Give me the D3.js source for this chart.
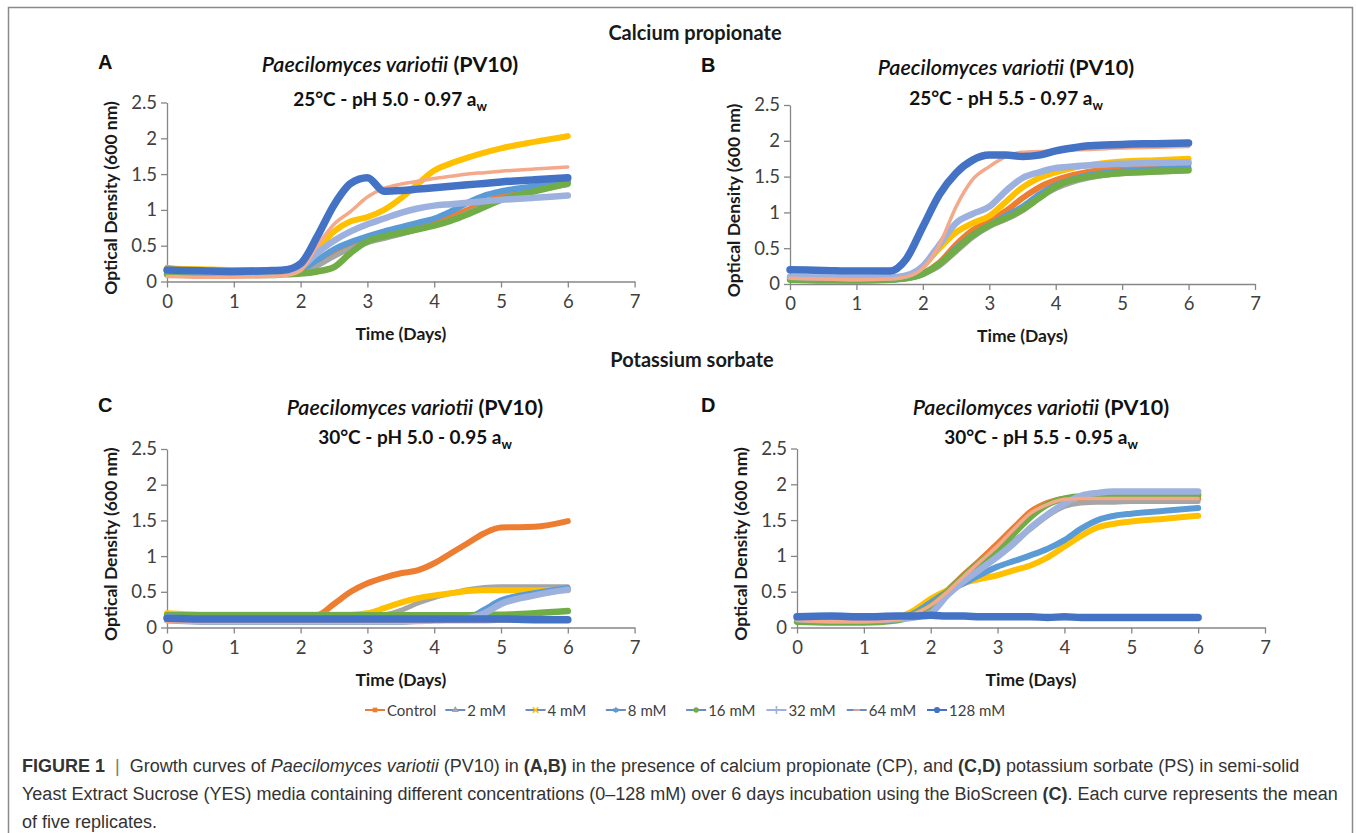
<!DOCTYPE html>
<html>
<head>
<meta charset="utf-8">
<script src="https://cdn.jsdelivr.net/npm/d3@7"></script>
<style>
  body { margin: 0; background: #fff; }
  svg { display: block; }
</style>
</head>
<body>
<div id="chart"></div>
<script>
// sampling days shared by every curve
const days = [0, 0.5, 1, 1.5, 1.75, 2, 2.25, 2.5, 2.75, 3, 3.25, 3.5, 3.75, 4, 4.25, 4.5, 4.75, 5, 5.5, 6];
const xTicks = [0, 1, 2, 3, 4, 5, 6, 7];
const yTicks = [0, 0.5, 1, 1.5, 2, 2.5];
const seriesNames = ["Control", "2 mM", "4 mM", "8 mM", "16 mM", "32 mM", "64 mM", "128 mM"];

// A: calcium propionate, 25°C pH 5.0
const panelA = [
  [0.13,0.12,0.12,0.12,0.12,0.14,0.25,0.40,0.50,0.58,0.64,0.70,0.76,0.82,0.90,1.00,1.10,1.20,1.32,1.40],
  [0.20,0.15,0.14,0.13,0.13,0.14,0.22,0.35,0.46,0.54,0.60,0.66,0.72,0.78,0.86,0.96,1.06,1.15,1.27,1.35],
  [0.18,0.17,0.16,0.16,0.16,0.20,0.45,0.70,0.84,0.90,1.00,1.16,1.36,1.55,1.65,1.73,1.80,1.86,1.95,2.03],
  [0.12,0.11,0.10,0.11,0.12,0.16,0.30,0.45,0.55,0.63,0.70,0.76,0.82,0.88,0.98,1.10,1.20,1.26,1.33,1.40],
  [0.10,0.09,0.09,0.09,0.10,0.11,0.14,0.20,0.40,0.56,0.63,0.68,0.73,0.78,0.85,0.94,1.04,1.14,1.26,1.37],
  [0.15,0.14,0.13,0.14,0.15,0.20,0.40,0.57,0.70,0.80,0.88,0.96,1.02,1.06,1.08,1.10,1.12,1.14,1.17,1.20],
  [0.07,0.06,0.06,0.07,0.08,0.15,0.50,0.80,0.98,1.18,1.30,1.36,1.40,1.44,1.47,1.50,1.52,1.54,1.57,1.60],
  [0.16,0.15,0.14,0.15,0.16,0.25,0.63,1.07,1.37,1.45,1.26,1.27,1.29,1.31,1.33,1.35,1.37,1.39,1.42,1.45]
];

// B: calcium propionate, 25°C pH 5.5
const panelB = [
  [0.08,0.07,0.06,0.07,0.09,0.15,0.30,0.55,0.75,0.88,1.02,1.20,1.35,1.45,1.52,1.57,1.60,1.62,1.66,1.68],
  [0.07,0.06,0.05,0.06,0.08,0.14,0.25,0.45,0.65,0.80,0.90,1.02,1.20,1.33,1.42,1.48,1.52,1.54,1.56,1.58],
  [0.08,0.07,0.06,0.07,0.10,0.25,0.50,0.72,0.85,0.95,1.15,1.35,1.48,1.56,1.62,1.66,1.69,1.71,1.73,1.75],
  [0.07,0.06,0.05,0.06,0.08,0.14,0.28,0.50,0.68,0.82,0.95,1.08,1.25,1.38,1.46,1.52,1.55,1.57,1.60,1.62],
  [0.06,0.05,0.05,0.06,0.08,0.14,0.28,0.48,0.68,0.82,0.92,1.04,1.20,1.36,1.45,1.50,1.53,1.55,1.57,1.59],
  [0.10,0.09,0.08,0.09,0.12,0.25,0.55,0.85,0.98,1.08,1.30,1.48,1.56,1.62,1.64,1.66,1.67,1.68,1.69,1.70],
  [0.08,0.07,0.06,0.07,0.10,0.22,0.55,1.08,1.46,1.64,1.78,1.84,1.85,1.86,1.87,1.88,1.89,1.90,1.91,1.92],
  [0.20,0.19,0.18,0.18,0.35,0.80,1.25,1.55,1.73,1.80,1.80,1.78,1.80,1.86,1.90,1.93,1.94,1.95,1.96,1.97]
];

// C: potassium sorbate, 30°C pH 5.0
const panelC = [
  [0.15,0.14,0.14,0.14,0.14,0.15,0.17,0.33,0.50,0.62,0.70,0.76,0.80,0.90,1.04,1.18,1.32,1.40,1.41,1.49],
  [0.20,0.17,0.17,0.17,0.17,0.17,0.17,0.17,0.17,0.17,0.18,0.24,0.34,0.42,0.48,0.53,0.56,0.57,0.57,0.57],
  [0.20,0.18,0.18,0.18,0.18,0.18,0.18,0.18,0.18,0.20,0.27,0.35,0.41,0.45,0.48,0.51,0.52,0.52,0.52,0.52],
  [0.10,0.08,0.08,0.08,0.08,0.08,0.08,0.08,0.08,0.08,0.08,0.08,0.09,0.10,0.11,0.13,0.25,0.38,0.48,0.55],
  [0.17,0.17,0.17,0.17,0.17,0.17,0.17,0.17,0.17,0.17,0.17,0.17,0.17,0.17,0.17,0.17,0.18,0.18,0.20,0.23],
  [0.14,0.12,0.12,0.12,0.12,0.12,0.12,0.12,0.12,0.12,0.12,0.12,0.12,0.12,0.12,0.13,0.20,0.33,0.45,0.53],
  [0.08,0.07,0.07,0.07,0.07,0.07,0.07,0.07,0.07,0.07,0.07,0.07,0.07,0.08,0.08,0.08,0.08,0.09,0.09,0.10],
  [0.13,0.12,0.12,0.12,0.12,0.12,0.12,0.12,0.12,0.12,0.12,0.12,0.12,0.12,0.12,0.12,0.12,0.12,0.11,0.11]
];

// D: potassium sorbate, 30°C pH 5.5
const panelD = [
  [0.12,0.10,0.09,0.12,0.20,0.33,0.52,0.74,0.95,1.17,1.40,1.62,1.74,1.80,1.81,1.81,1.81,1.80,1.80,1.80],
  [0.10,0.08,0.08,0.11,0.17,0.27,0.45,0.65,0.85,1.03,1.22,1.38,1.56,1.69,1.74,1.75,1.75,1.76,1.76,1.76],
  [0.12,0.10,0.09,0.14,0.24,0.40,0.52,0.62,0.68,0.73,0.80,0.87,0.98,1.13,1.28,1.40,1.45,1.48,1.52,1.56],
  [0.10,0.08,0.08,0.11,0.20,0.35,0.50,0.62,0.74,0.85,0.93,1.01,1.10,1.22,1.38,1.50,1.56,1.59,1.63,1.67],
  [0.08,0.07,0.07,0.10,0.18,0.30,0.50,0.72,0.92,1.10,1.32,1.55,1.72,1.80,1.83,1.83,1.84,1.84,1.85,1.85],
  [0.12,0.10,0.10,0.12,0.14,0.20,0.45,0.65,0.82,0.99,1.18,1.40,1.58,1.73,1.84,1.88,1.90,1.90,1.90,1.90],
  [0.10,0.08,0.08,0.11,0.19,0.31,0.50,0.72,0.93,1.14,1.38,1.60,1.72,1.79,1.80,1.80,1.80,1.80,1.80,1.80],
  [0.15,0.16,0.15,0.16,0.16,0.17,0.16,0.16,0.15,0.15,0.15,0.15,0.14,0.15,0.14,0.14,0.14,0.14,0.14,0.14]
];

const colors = ["#ED7D31", "#A5A5A5", "#FFC000", "#5B9BD5", "#70AD47", "#9DB1DF", "#F4A98A", "#4472C4"];
const widths = [6, 5, 6, 6, 6.5, 6.5, 3.5, 7.5];
const legendLine = ["#ED7D31", "#6a8cc8", "#6a8cc8", "#6a8cc8", "#6a8cc8", "#9DB1DF", "#6a8cc8", "#4472C4"];
const dash = { draw(ctx, size) { const w = Math.sqrt(size) * 0.7; ctx.moveTo(-w, 0); ctx.lineTo(w, 0); } };
const symbols = [d3.symbolSquare, d3.symbolTriangle, d3.symbolX, d3.symbolAsterisk, d3.symbolCircle, d3.symbolPlus, dash, d3.symbolCircle];

const W = 1356, H = 833;
const svg = d3.select("#chart").append("svg").attr("width", W).attr("height", H);
svg.append("rect").attr("width", W).attr("height", H).attr("fill", "#fff");

// outer frame
svg.append("rect")
  .attr("x", 8.5).attr("y", 7.5).attr("width", 1344).attr("height", 900)
  .attr("fill", "none").attr("stroke", "#8a8a8a").attr("stroke-width", 1.5);

const sans = "Lato, 'Open Sans', sans-serif";

svg.append("text").attr("x", 695).attr("y", 40).attr("text-anchor", "middle")
  .style("font-family", sans).style("font-weight", 700).style("font-size", "20px")
  .attr("fill", "#1a1a1a").text("Calcium propionate");
svg.append("text").attr("x", 692).attr("y", 367).attr("text-anchor", "middle")
  .style("font-family", sans).style("font-weight", 700).style("font-size", "20px")
  .attr("fill", "#1a1a1a").text("Potassium sorbate");

const panels = [
  { letter: "A", data: panelA, x0: 167, x7: 634.6, y0: 281.5, y25: 102.5, lx: 98, ly: 69, tx: 390, ty1: 72, ty2: 106, cond: "25°C - pH 5.0 - 0.97 a" },
  { letter: "B", data: panelB, x0: 790, x7: 1255, y0: 284, y25: 105, lx: 701, ly: 72, tx: 1006, ty1: 75, ty2: 105, cond: "25°C - pH 5.5 - 0.97 a" },
  { letter: "C", data: panelC, x0: 167, x7: 634.6, y0: 627.5, y25: 449, lx: 98, ly: 412, tx: 415, ty1: 415, ty2: 444, cond: "30°C - pH 5.0 - 0.95 a" },
  { letter: "D", data: panelD, x0: 797, x7: 1265, y0: 627.5, y25: 448.5, lx: 701, ly: 412, tx: 1041, ty1: 415, ty2: 444, cond: "30°C - pH 5.5 - 0.95 a" }
];

panels.forEach(function(p) {
  const x = d3.scaleLinear().domain([0, 7]).range([p.x0, p.x7]);
  const y = d3.scaleLinear().domain([0, 2.5]).range([p.y0, p.y25]);
  const g = svg.append("g");

  g.append("text").attr("x", p.lx).attr("y", p.ly)
    .style("font-family", "'Liberation Sans', Arial, sans-serif").style("font-weight", 700)
    .style("font-size", "20px").attr("fill", "#111").text(p.letter);

  const t1 = g.append("text").attr("x", p.tx).attr("y", p.ty1).attr("text-anchor", "middle")
    .style("font-family", sans).style("font-size", "21.5px").attr("fill", "#111");
  t1.append("tspan").style("font-style", "italic").style("font-weight", 600).text("Paecilomyces variotii");
  t1.append("tspan").style("font-weight", 700).text(" (PV10)");

  const t2 = g.append("text").attr("x", p.tx).attr("y", p.ty2).attr("text-anchor", "middle")
    .style("font-family", sans).style("font-weight", 700).style("font-size", "19px").attr("fill", "#111");
  t2.append("tspan").text(p.cond);
  t2.append("tspan").attr("dy", 5).style("font-size", "13px").text("w");

  // axes
  const xAxis = g.append("g").attr("transform", "translate(0," + p.y0 + ")")
    .call(d3.axisBottom(x).tickValues(xTicks).tickSize(6).tickSizeOuter(0).tickPadding(7).tickFormat(d3.format("d")));
  const yAxis = g.append("g").attr("transform", "translate(" + p.x0 + ",0)")
    .call(d3.axisLeft(y).tickValues(yTicks).tickSize(6).tickSizeOuter(0).tickPadding(4).tickFormat(d => String(d)));
  [xAxis, yAxis].forEach(function(a) {
    a.select(".domain").attr("stroke", "#868686").attr("stroke-width", 1.3);
    a.selectAll(".tick line").attr("stroke", "#868686").attr("stroke-width", 1.3);
    a.selectAll(".tick text").attr("fill", "#404040")
      .style("font-family", sans).style("font-size", "18.5px");
  });

  g.append("text").attr("x", (p.x0 + p.x7) / 2).attr("y", p.y0 + 58).attr("text-anchor", "middle")
    .style("font-family", sans).style("font-weight", 700).style("font-size", "17.5px")
    .attr("fill", "#1a1a1a").text("Time (Days)");
  g.append("text")
    .attr("transform", "translate(" + (p.x0 - 50) + "," + ((p.y0 + p.y25) / 2 + 6) + ") rotate(-90)")
    .attr("text-anchor", "middle")
    .style("font-family", sans).style("font-weight", 700).style("font-size", "17.5px")
    .attr("fill", "#1a1a1a").text("Optical Density (600 nm)");

  const line = d3.line()
    .x(d => x(d[0]))
    .y(d => y(d[1]))
    .curve(d3.curveMonotoneX);

  p.data.forEach(function(vals, i) {
    g.append("path")
      .datum(days.map((d, k) => [d, vals[k]]))
      .attr("d", line)
      .attr("fill", "none")
      .attr("stroke", colors[i])
      .attr("stroke-width", widths[i])
      .attr("stroke-linecap", "round")
      .attr("stroke-linejoin", "round");
  });
});

// legend
const lx = d3.scalePoint().domain(seriesNames).range([365, 927]);
const leg = svg.append("g").attr("transform", "translate(0,710)");
seriesNames.forEach(function(name, i) {
  const x0 = lx(name);
  leg.append("line").attr("x1", x0).attr("x2", x0 + 20).attr("y1", 0).attr("y2", 0)
    .attr("stroke", legendLine[i]).attr("stroke-width", 2);
  const sym = leg.append("path")
    .attr("transform", "translate(" + (x0 + 10) + ",0)")
    .attr("d", d3.symbol().type(symbols[i]).size(i === 7 ? 30 : 22)());
  if (i === 2 || i === 3 || i === 5 || i === 6) {
    sym.attr("fill", "none").attr("stroke", colors[i]).attr("stroke-width", 1.6);
  } else {
    sym.attr("fill", colors[i]);
  }
  leg.append("text").attr("x", x0 + 22).attr("y", 5.5)
    .style("font-family", sans).style("font-size", "15px").attr("fill", "#404040").text(name);
});

// caption
const cap = svg.append("g").style("font-family", "'Liberation Sans', Arial, sans-serif")
  .style("font-size", "18px").attr("fill", "#333");
const capLines = [
  [["FIGURE 1", "b"], ["  |  ", "s"], ["Growth curves of ", ""], ["Paecilomyces variotii", "i"], [" (PV10) in ", ""], ["(A,B)", "b"],
   [" in the presence of calcium propionate (CP), and ", ""], ["(C,D)", "b"], [" potassium sorbate (PS) in semi-solid", ""]],
  [["Yeast Extract Sucrose (YES) media containing different concentrations (0–128 mM) over 6 days incubation using the BioScreen ", ""],
   ["(C)", "b"], [". Each curve represents the mean", ""]],
  [["of five replicates.", ""]]
];
capLines.forEach(function(parts, li) {
  const t = cap.append("text").attr("x", 22).attr("y", 772 + li * 28).attr("xml:space", "preserve");
  parts.forEach(function(pt) {
    const s = t.append("tspan").text(pt[0]);
    if (pt[1] === "b") s.style("font-weight", 700);
    if (pt[1] === "i") s.style("font-style", "italic");
    if (pt[1] === "s") s.attr("fill", "#777");
  });
});
</script>
</body>
</html>
